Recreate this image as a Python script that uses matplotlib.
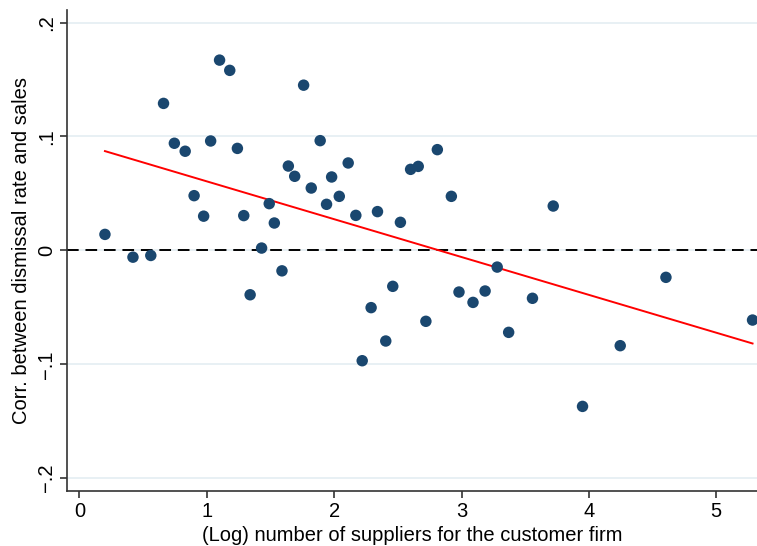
import numpy as np
import matplotlib
matplotlib.use("Agg")
import matplotlib.pyplot as plt

plt.rcParams["font.family"] = ["Liberation Sans", "DejaVu Sans"]

# (log) number of suppliers vs. correlation between dismissal rate and sales
log_suppliers = [
    0.20, 0.42, 0.56, 0.66, 0.745, 0.83, 0.90, 0.975, 1.03, 1.10,
    1.18, 1.24, 1.29, 1.34, 1.43, 1.49, 1.53, 1.59, 1.64, 1.69,
    1.76, 1.82, 1.89, 1.94, 1.98, 2.04, 2.11, 2.17, 2.22, 2.29,
    2.34, 2.405, 2.46, 2.52, 2.60, 2.66, 2.72, 2.81, 2.92, 2.98,
    3.09, 3.185, 3.28, 3.37, 3.557, 3.72, 3.95, 4.246, 4.605, 5.285,
]
corr = [
    0.014, -0.006, -0.0045, 0.129, 0.094, 0.087, 0.048, 0.030, 0.096, 0.167,
    0.158, 0.0895, 0.0305, -0.039, 0.002, 0.041, 0.024, -0.018, 0.074, 0.065,
    0.145, 0.0547, 0.0963, 0.0404, 0.0644, 0.0474, 0.0767, 0.0307, -0.0969, -0.0503,
    0.034, -0.0796, -0.0316, 0.0246, 0.0711, 0.0737, -0.0623, 0.0884, 0.0474, -0.0366,
    -0.0457, -0.0357, -0.0147, -0.072, -0.0421, 0.0389, -0.137, -0.0837, -0.0237, -0.0612,
]

y_ticks = [-0.2, -0.1, 0, 0.1, 0.2]
y_ticklabels = ["\u2212.2", "\u2212.1", "0", ".1", ".2"]
x_ticks = [0, 1, 2, 3, 4, 5]

x = np.array(log_suppliers)
y = np.array(corr)

fig = plt.figure(figsize=(7.57, 5.46), dpi=100)
ax = fig.add_axes([0.0885, 0.1013, 0.9115, 0.8804])

# horizontal grid
for t in y_ticks:
    ax.axhline(t, color="#e8f0f4", linewidth=1.4, zorder=0)

ax.axhline(0, color="black", linewidth=1.4, linestyle=(0, (6, 3.5)), zorder=1)

ax.scatter(x, y, s=68, color="#1a476f", edgecolors="none", zorder=3)

# linear fit
slope, intercept = np.polyfit(x, y, 1)
fx = np.array([x.min(), x.max()])
ax.plot(fx, intercept + slope * fx, color="red", linewidth=1.4, zorder=2)

ax.set_xlim(-0.098, 5.32)
ax.set_ylim(-0.211, 0.211)
ax.set_xticks(x_ticks)
ax.set_xticklabels([str(t) for t in x_ticks])
ax.set_yticks(y_ticks)
ax.set_yticklabels(y_ticklabels, rotation=90, va="center")

for side in ["top", "right"]:
    ax.spines[side].set_visible(False)
for side in ["left", "bottom"]:
    ax.spines[side].set_color("#333333")
    ax.spines[side].set_linewidth(1.2)

ax.tick_params(axis="both", direction="out", length=5, width=1.2,
               color="#333333", labelsize=14.5, labelcolor="black")
ax.tick_params(axis="y", pad=3)
ax.tick_params(axis="x", pad=3.5)

ax.set_xlabel("(Log) number of suppliers for the customer firm", fontsize=14.5, labelpad=3.5)
ax.set_ylabel("Corr. between dismissal rate and sales", fontsize=14.5, labelpad=4)

fig.savefig("out.png", dpi=100)
